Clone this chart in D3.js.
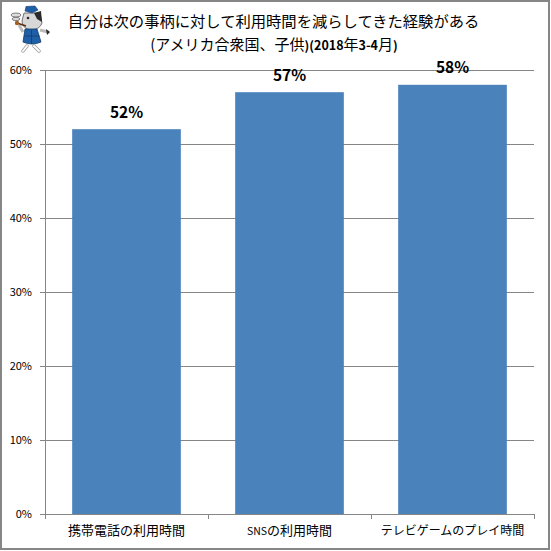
<!DOCTYPE html>
<html>
<head>
<meta charset="utf-8">
<script src="https://cdn.jsdelivr.net/npm/d3@7"></script>
<style>
  html, body { margin: 0; padding: 0; background: #fff; }
  svg { display: block; }
  text { font-family: "Noto Sans CJK JP", sans-serif; fill: #000; }
</style>
</head>
<body>
<div id="svg-area"></div>
<script>
// data
const categories = ["携帯電話の利用時間", "SNSの利用時間", "テレビゲームのプレイ時間"];
const values = [52, 57, 58];
const yTicks = [0, 10, 20, 30, 40, 50, 60];
const titleLine1 = "自分は次の事柄に対して利用時間を減らしてきた経験がある";
// second line mixes plain kana/kanji with small bold latin
const titleLine2 = ["(", "アメリカ合衆国、子供", ")(2018", "年", "3-4", "月", ")"];
const titleLine2Bold = [false, false, true, false, true, false, true];

// svg container
const svgWidth = 551;
const svgHeight = 551;

// plot area
const margin = { top: 70, right: 17, bottom: 37, left: 45 };
const chartWidth = svgWidth - margin.left - margin.right;
const chartHeight = svgHeight - margin.top - margin.bottom;

const svg = d3.select("#svg-area").append("svg")
    .attr("width", svgWidth)
    .attr("height", svgHeight);

// outer border
svg.append("rect")
    .attr("x", 1).attr("y", 1)
    .attr("width", svgWidth - 3).attr("height", svgHeight - 3)
    .attr("fill", "#fff")
    .attr("stroke", "#868686")
    .attr("stroke-width", 2);

const chartGroup = svg.append("g")
    .attr("transform", `translate(${margin.left}, ${margin.top})`);

// scales
const x = d3.scaleBand().domain(categories).range([0, chartWidth]).paddingInner(1 / 3).paddingOuter(1 / 6);
const y = d3.scaleLinear().domain([0, 60]).range([chartHeight, 0]);

// gridlines
chartGroup.selectAll(".grid").data(yTicks).enter().append("line")
    .attr("x1", -5).attr("x2", chartWidth)
    .attr("y1", d => y(d) + 0.5).attr("y2", d => y(d) + 0.5)
    .attr("stroke", "#868686");

// y axis line and category ticks
chartGroup.append("line")
    .attr("x1", 0.5).attr("x2", 0.5)
    .attr("y1", 0).attr("y2", chartHeight + 5)
    .attr("stroke", "#868686");
chartGroup.selectAll(".xtick").data(d3.range(categories.length + 1)).enter().append("line")
    .attr("x1", d => d * x.step() + 0.5).attr("x2", d => d * x.step() + 0.5)
    .attr("y1", chartHeight).attr("y2", chartHeight + 5)
    .attr("stroke", "#868686");

// bars
chartGroup.selectAll(".bar").data(values).enter().append("rect")
    .attr("x", (d, i) => x(categories[i]))
    .attr("y", d => y(d))
    .attr("width", x.bandwidth())
    .attr("height", d => chartHeight - y(d))
    .attr("fill", "#4a82bc");

// bar labels
chartGroup.selectAll(".bar-label").data(values).enter().append("text")
    .attr("x", (d, i) => x(categories[i]) + x.bandwidth() / 2)
    .attr("y", d => y(d) - 11.5)
    .attr("text-anchor", "middle")
    .attr("font-size", 15.5)
    .attr("font-weight", 700)
    .text(d => d + "%");

// y tick labels
chartGroup.selectAll(".y-label").data(yTicks).enter().append("text")
    .attr("x", -13)
    .attr("y", d => y(d) + 4)
    .attr("text-anchor", "end")
    .attr("font-size", 11)
    .text(d => d + "%");

// x labels, SNS is set smaller like the reference
const xLabelSizes = [13, 13, 12];
const xLabels = chartGroup.selectAll(".x-label").data(categories).enter().append("text")
    .attr("x", d => x(d) + x.bandwidth() / 2)
    .attr("y", chartHeight + 21)
    .attr("text-anchor", "middle")
    .attr("font-size", (d, i) => xLabelSizes[i]);
xLabels.each(function (d) {
  const parts = d.startsWith("SNS") ? ["SNS", d.slice(3)] : [d];
  d3.select(this).selectAll("tspan").data(parts).enter().append("tspan")
      .attr("font-size", p => p === "SNS" ? 10.5 : null)
      .text(p => p);
});

// title
svg.append("text")
    .attr("x", 273.5)
    .attr("y", 27)
    .attr("text-anchor", "middle")
    .attr("font-size", 15.3)
    .text(titleLine1);
svg.append("text")
    .attr("x", 274)
    .attr("y", 50)
    .attr("text-anchor", "middle")
    .attr("font-size", 15)
    .selectAll("tspan").data(titleLine2).enter().append("tspan")
    .attr("font-weight", (d, i) => titleLine2Bold[i] ? 700 : 400)
    .attr("font-size", (d, i) => titleLine2Bold[i] ? 12.5 : null)
    .text(d => d);

// mascot, rough shapes
const mascot = svg.append("g").attr("transform", "translate(10, 5)");
const ink = "#2a2a2a";
// smoke
mascot.append("ellipse").attr("cx", 6).attr("cy", 10).attr("rx", 5).attr("ry", 2).attr("fill", "#ddd").attr("stroke", "#666").attr("stroke-width", 0.8);
mascot.append("ellipse").attr("cx", 6).attr("cy", 14).attr("rx", 4).attr("ry", 1.6).attr("fill", "#ddd").attr("stroke", "#666").attr("stroke-width", 0.8);
// tail
mascot.append("path").attr("d", "M30 25 L38 27").attr("stroke", "#bbb").attr("stroke-width", 3);
mascot.append("path").attr("d", "M36 24 L40 27 L37 30 Z").attr("fill", ink);
// legs
mascot.append("path").attr("d", "M17 41 L13 46").attr("stroke", "#999").attr("stroke-width", 3.5).attr("stroke-linecap", "round");
mascot.append("path").attr("d", "M24 41 L29 46").attr("stroke", "#999").attr("stroke-width", 3.5).attr("stroke-linecap", "round");
mascot.append("path").attr("d", "M17 41 L13 46").attr("stroke", "#fff").attr("stroke-width", 2).attr("stroke-linecap", "round");
mascot.append("path").attr("d", "M24 41 L29 46").attr("stroke", "#fff").attr("stroke-width", 2).attr("stroke-linecap", "round");
// head
mascot.append("path").attr("d", "M12 16 L14 8 L30 8 L32 18 Q30 24 22 25 Q12 24 12 16 Z").attr("fill", "#d8d8d8").attr("stroke", "#555").attr("stroke-width", 0.8);
mascot.append("path").attr("d", "M24 8 L31 6 L32 17 L27 14 Z").attr("fill", ink);
mascot.append("circle").attr("cx", 18).attr("cy", 13).attr("r", 1.3).attr("fill", ink);
// hat
mascot.append("path").attr("d", "M15 6 L16 1.5 L25 1 L28 5 L22 8 Z").attr("fill", "#1f5fa8").attr("stroke", "#123a66").attr("stroke-width", 0.6);
// arm and pipe
mascot.append("path").attr("d", "M13 27 L9 20").attr("stroke", "#bbb").attr("stroke-width", 3);
mascot.append("path").attr("d", "M7 18 L16 21").attr("stroke", "#5a2c10").attr("stroke-width", 1.6);
mascot.append("circle").attr("cx", 7).attr("cy", 18).attr("r", 2.2).attr("fill", "#a0602a");
// vest
mascot.append("path").attr("d", "M15 24 L27 24 L31 37 Q22 41 13 37 Z").attr("fill", "#1f5fa8").attr("stroke", "#123a66").attr("stroke-width", 0.8);
mascot.append("path").attr("d", "M21.5 25 L21.5 39 M14.5 31 L29.5 31").attr("stroke", "#123a66").attr("stroke-width", 0.7);
</script>
</body>
</html>
